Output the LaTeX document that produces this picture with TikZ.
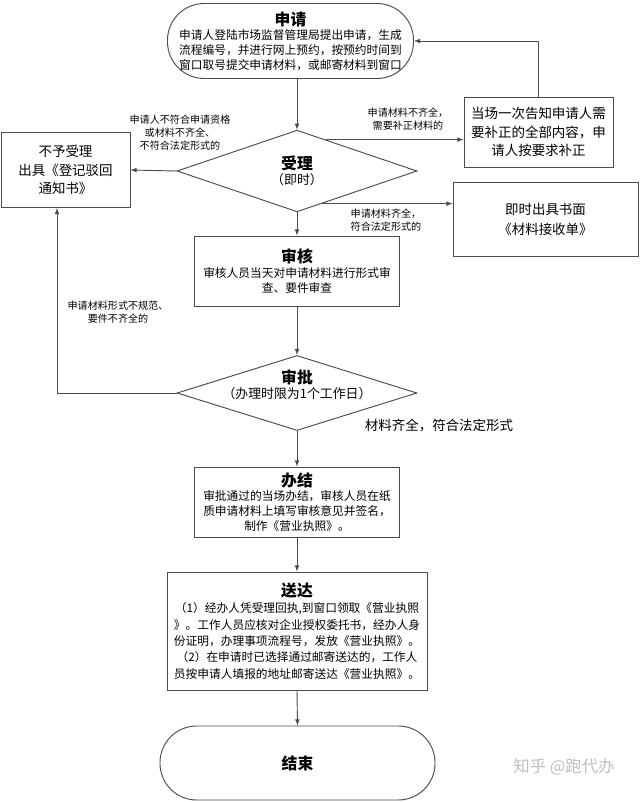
\documentclass[tikz,border=0pt]{standalone}
\usepackage{fontspec}
\setmainfont{Noto Sans CJK SC}
\usetikzlibrary{arrows}
\usetikzlibrary{shapes.geometric}
\usetikzlibrary{calc}

\newcommand{\stagetitle}[1]{{\fontsize{13.5}{16}\selectfont\bfseries #1}}

\begin{document}
\begin{tikzpicture}[x=0.03cm, y=-0.03cm, line width=0.8pt, >=latex,
	box/.style = {rectangle, draw=black!70, fill=white,
		align=center, inner sep=1pt},
	terminal/.style = {rectangle, rounded corners=1.1cm, draw=black!70,
		fill=white, align=center, inner sep=1pt},
	decision/.style = {diamond, draw=black!70, fill=white, align=center,
		inner sep=0pt, minimum width=7.2cm, minimum height=2.25cm},
	body/.style = {font=\fontsize{10}{12.5}\selectfont},
	bigbody/.style = {font=\fontsize{11.5}{15.5}\selectfont},
	smallnote/.style = {align=center, font=\fontsize{8.6}{11}\selectfont},
	flow/.style = {->, draw=black!70}]
	
	\useasboundingbox (0,0) rectangle (640,802);
	
	% Apply
	\node[terminal, body, minimum width=7.38cm, minimum height=2.25cm] (shenqing) at (290.5,41)
		{\stagetitle{申请}\\申请人登陆市场监督管理局提出申请，生成\\流程编号，并进行网上预约，按预约时间到\\窗口取号提交申请材料，或邮寄材料到窗口};
	
	% Accept
	\node[decision] (shouli) at (297,171)
		{\stagetitle{受理}\\[1pt]{\fontsize{11}{13}\selectfont （即时）}};
	
	% Side boxes
	\node[box, bigbody, minimum width=3.87cm, minimum height=2.25cm] (buyu) at (65.5,170)
		{不予受理\\出具《登记驳回\\通知书》};
	\node[box, bigbody, minimum width=4.47cm, minimum height=2.1cm] (dangchang) at (538.5,132)
		{当场一次告知申请人需\\要补正的全部内容，申\\请人按要求补正};
	\node[box, font=\fontsize{11.5}{17}\selectfont, minimum width=5.55cm, minimum height=2.22cm] (jishi) at (545.5,219)
		{即时出具书面\\《材料接收单》};
	
	% Review
	\node[box, body, minimum width=6.15cm, minimum height=2.1cm] (shenhe) at (297,271)
		{\stagetitle{审核}\\审核人员当天对申请材料进行形式审\\查、要件审查};
	
	% Approve
	\node[decision, label={[align=center, yshift=0.24cm]center:{\stagetitle{审批}\\[1pt]{\fontsize{11}{13}\selectfont （办理时限为1个工作日）}}}] (shenpi) at (297,393) {};
	
	% Finish
	\node[box, body, minimum width=6.15cm, minimum height=2.1cm] (banjie) at (297,502)
		{\stagetitle{办结}\\审批通过的当场办结，审核人员在纸\\质申请材料上填写审核意见并签名，\\制作《营业执照》。};
	
	% Deliver
	\node[box, font=\fontsize{10}{14}\selectfont, minimum width=7.8cm, minimum height=3.54cm] (songda) at (297,631)
		{\stagetitle{送达}\\（1）经办人凭受理回执,到窗口领取《营业执照\\》。工作人员应核对企业授权委托书，经办人身\\份证明，办理事项流程号，发放《营业执照》。\\（2）在申请时已选择通过邮寄送达的，工作人\\员按申请人填报的地址邮寄送达《营业执照》。};
	
	% End
	\node[terminal, minimum width=8.25cm, minimum height=2.22cm] (jieshu) at (297.5,763)
		{\stagetitle{结束}};
	
	% Connectors
	\draw[flow] (shenqing.south -| shouli.north) -- (shouli.north);
	\draw[flow] (shouli.west) -- (buyu.west -| buyu.east);
	\coordinate (bq) at ($(shouli.north)!0.24!(shouli.east)$);
	\draw[flow] (bq) -- (bq -| dangchang.west);
	\coordinate (jq) at ($(shouli.south)!0.21!(shouli.east)$);
	\draw[flow] (jq) -- (jq -| jishi.west);
	\draw[flow] (dangchang.north) |- (shenqing.east);
	\draw[flow] (shouli.south) -- (shenhe.north);
	\draw[flow] (shenhe.south) -- (shenpi.north);
	\coordinate (back) at ($(buyu.south)+(-8.5,0)$);
	\draw[flow] (shenpi.west) -| (back);
	\draw[flow] (shenpi.south) -- (banjie.north);
	\draw[flow] (banjie.south) -- (songda.north);
	\draw[flow] (songda.south) -- (jieshu.north);
	
	% Branch labels
	\node[smallnote] (nobuyu) at (180,133) {申请人不符合申请资格\\或材料不齐全、\\不符合法定形式的};
	\node[smallnote] (nobuzheng) at (408,119) {申请材料不齐全，\\需要补正材料的};
	\node[smallnote, align=left] (noqiquan) at (386,220) {申请材料齐全，\\符合法定形式的};
	\node[smallnote] (noguifan) at (118,312) {申请材料形式不规范、\\要件不齐全的};
	\node[font=\fontsize{11.5}{14}\selectfont] (nofuhe) at (439,425) {材料齐全，符合法定形式};
	
	% Watermark
	\node[font=\fontsize{14}{16}\selectfont, text=black!25] (mark) at (564,767) {知乎 @跑代办};
	
\end{tikzpicture}
\end{document}
